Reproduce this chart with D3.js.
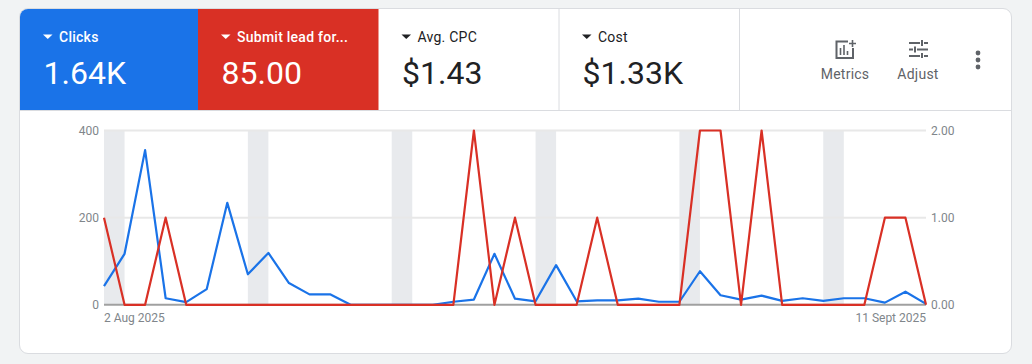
<!DOCTYPE html>
<html>
<head>
<meta charset="utf-8">
<script src="https://cdn.jsdelivr.net/npm/d3@7"></script>
<style>
  html, body { margin: 0; padding: 0; background: #f1f3f4; overflow: hidden; }
  svg { display: block; font-family: Roboto, sans-serif; }
</style>
</head>
<body>
<svg id="chart" width="1032" height="364"></svg>
<script>
// -----------------------------
// DATA
// -----------------------------
const startDate = "2025-08-02";
const clicks = [43, 117, 355, 15, 6, 36, 234, 70, 119, 50, 24, 24, 0, 0, 0, 0, 0, 7, 12, 117, 14, 8, 91, 8, 10, 10, 14, 7, 7, 77, 22, 12, 21, 9, 15, 9, 15, 15, 5, 30, 2];
const leads = [1, 0, 0, 1, 0, 0, 0, 0, 0, 0, 0, 0, 0, 0, 0, 0, 0, 0, 2, 0, 1, 0, 0, 0, 1, 0, 0, 0, 0, 2, 2, 0, 2, 0, 0, 0, 0, 0, 1, 1, 0];
const leftTicks = [0, 200, 400];
const rightTicks = [0, 1, 2];
const dateLabels = ["2 Aug 2025", "11 Sept 2025"];
const tileNames = ["Clicks", "Submit lead for...", "Avg. CPC", "Cost"];
const tileValues = ["1.64K", "85.00", "$1.43", "$1.33K"];
const tileEdges = [20, 198, 378.5, 559, 739.5];

const BLUE = "#1a73e8";
const RED = "#d93025";
const GRID = "#e8e8e8";
const BAND = "#e8eaed";

const svg = d3.select("#chart");
const parseDate = d3.utcParse("%Y-%m-%d");
const days = clicks.map((_, i) => d3.utcDay.offset(parseDate(startDate), i));

// -----------------------------
// CARD
// -----------------------------
svg.append("clipPath").attr("id", "card-clip")
  .append("rect").attr("x", 20).attr("y", 9).attr("width", 991).attr("height", 344).attr("rx", 8);

svg.append("rect")
  .attr("x", 19.5).attr("y", 8.5).attr("width", 992).attr("height", 345).attr("rx", 8.5)
  .attr("fill", "#fff")
  .attr("stroke", "#dadce0");

const header = svg.append("g").attr("clip-path", "url(#card-clip)");

header.selectAll("rect.tile")
  .data(tileNames.slice(0, 2))
  .join("rect")
  .attr("class", "tile")
  .attr("x", (d, i) => tileEdges[i])
  .attr("y", 9)
  .attr("width", (d, i) => tileEdges[i + 1] - tileEdges[i])
  .attr("height", 101)
  .attr("fill", (d, i) => i === 0 ? BLUE : RED);

header.selectAll("line.divider")
  .data(tileEdges.slice(3, 5))
  .join("line")
  .attr("class", "divider")
  .attr("x1", d => d).attr("x2", d => d)
  .attr("y1", 9).attr("y2", 110)
  .attr("stroke", "#dadce0");

header.append("line")
  .attr("x1", 20).attr("x2", 1011)
  .attr("y1", 110.5).attr("y2", 110.5)
  .attr("stroke", "#dadce0");

// -----------------------------
// TILES
// -----------------------------
const tile = header.selectAll("g.metric")
  .data(tileNames)
  .join("g")
  .attr("class", "metric")
  .attr("transform", (d, i) => `translate(${tileEdges[i]},0)`);

const tileColor = (i) => i < 2 ? "#fff" : "#202124";

tile.append("path")
  .attr("d", "M23 34.5h9.5l-4.75 4.5z")
  .attr("fill", (d, i) => tileColor(i));

tile.append("text")
  .attr("x", 39).attr("y", 42)
  .attr("font-size", 14)
  .attr("font-weight", (d, i) => i < 2 ? 500 : 400)
  .attr("letter-spacing", 0.25)
  .attr("fill", (d, i) => tileColor(i))
  .text(d => d);

tile.append("text")
  .attr("x", 23.5).attr("y", 84)
  .attr("font-size", 32)
  .attr("fill", (d, i) => tileColor(i))
  .text((d, i) => tileValues[i]);

// -----------------------------
// TOOLBAR
// -----------------------------
const iconColor = "#5f6368";

const metricsIcon = svg.append("g").attr("fill", "none").attr("stroke", iconColor);
metricsIcon.append("path")
  .attr("stroke-width", 2)
  .attr("d", "M848 41.5h-11.5v16.5h16.5v-10");
metricsIcon.append("path")
  .attr("stroke-width", 1.6)
  .attr("d", "M840.5 55v-7M844 55v-10M847.5 55v-4M852.5 40v7M849 43.5h7");

const adjustIcon = svg.append("g").attr("stroke", iconColor).attr("stroke-width", 2).attr("fill", "none");
adjustIcon.append("path")
  .attr("d", "M909 43h11M924 43h4M909 49.5h4M917 49.5h11M909 56h11M924 56h4M922 40v6M915 46.5v6M922 53v5");

svg.selectAll("circle.more")
  .data([53, 60, 67])
  .join("circle")
  .attr("class", "more")
  .attr("cx", 978).attr("cy", d => d).attr("r", 2.4)
  .attr("fill", iconColor);

svg.selectAll("text.tool")
  .data(["Metrics", "Adjust"])
  .join("text")
  .attr("class", "tool")
  .attr("x", (d, i) => i === 0 ? 845 : 918)
  .attr("y", 79)
  .attr("text-anchor", "middle")
  .attr("font-size", 14)
  .attr("letter-spacing", 0.25)
  .attr("fill", iconColor)
  .text(d => d);

// -----------------------------
// SCALES
// -----------------------------
const x = d3.scaleUtc().domain(d3.extent(days)).range([104, 926]);
const yLeft = d3.scaleLinear().domain([0, 400]).range([304.8, 130.5]);
const yRight = d3.scaleLinear().domain([0, 2]).range([304.8, 130.5]);

// -----------------------------
// WEEKEND BANDS
// -----------------------------
const weekends = days.filter(d => d.getUTCDay() === 6);

svg.append("g").selectAll("rect")
  .data(weekends)
  .join("rect")
  .attr("x", d => x(d))
  .attr("y", yLeft(400))
  .attr("width", d => x(d3.utcDay.offset(d, 1)) - x(d))
  .attr("height", yLeft(0) - yLeft(400))
  .attr("fill", BAND);

// -----------------------------
// GRID + AXES
// -----------------------------
svg.append("g").selectAll("line")
  .data(leftTicks.slice(1))
  .join("line")
  .attr("x1", 104).attr("x2", 926)
  .attr("y1", d => yLeft(d)).attr("y2", d => yLeft(d))
  .attr("stroke", GRID).attr("stroke-width", 2);

svg.append("line")
  .attr("x1", 104).attr("x2", 926)
  .attr("y1", yLeft(0)).attr("y2", yLeft(0))
  .attr("stroke", "#a0a0a0").attr("stroke-width", 2);

const styleAxis = (g) => {
  g.select(".domain").remove();
  g.selectAll(".tick line").remove();
  g.selectAll(".tick text")
    .attr("font-family", "Roboto, sans-serif")
    .attr("font-size", 12)
    .attr("fill", "#80868b");
};

svg.append("g")
  .attr("transform", "translate(104,0)")
  .call(d3.axisLeft(yLeft).tickValues(leftTicks).tickSize(0).tickPadding(5))
  .call(styleAxis);

svg.append("g")
  .attr("transform", "translate(926,0)")
  .call(d3.axisRight(yRight).tickValues(rightTicks).tickFormat(d3.format(".2f")).tickSize(0).tickPadding(5))
  .call(styleAxis);

svg.selectAll("text.date")
  .data(dateLabels)
  .join("text")
  .attr("class", "date")
  .attr("x", (d, i) => i === 0 ? x(days[0]) : x(days[days.length - 1]))
  .attr("y", 322)
  .attr("text-anchor", (d, i) => i === 0 ? "start" : "end")
  .attr("font-size", 12)
  .attr("fill", "#80868b")
  .text(d => d);

// -----------------------------
// LINES
// -----------------------------
const clicksLine = d3.line().x((d, i) => x(days[i])).y(d => yLeft(d));
const leadsLine = d3.line().x((d, i) => x(days[i])).y(d => yRight(d));

svg.append("path")
  .datum(clicks)
  .attr("d", clicksLine)
  .attr("fill", "none")
  .attr("stroke", BLUE)
  .attr("stroke-width", 2.2)
  .attr("stroke-linejoin", "round");

svg.append("path")
  .datum(leads)
  .attr("d", leadsLine)
  .attr("fill", "none")
  .attr("stroke", RED)
  .attr("stroke-width", 2.2)
  .attr("stroke-linejoin", "round");
</script>
</body>
</html>
